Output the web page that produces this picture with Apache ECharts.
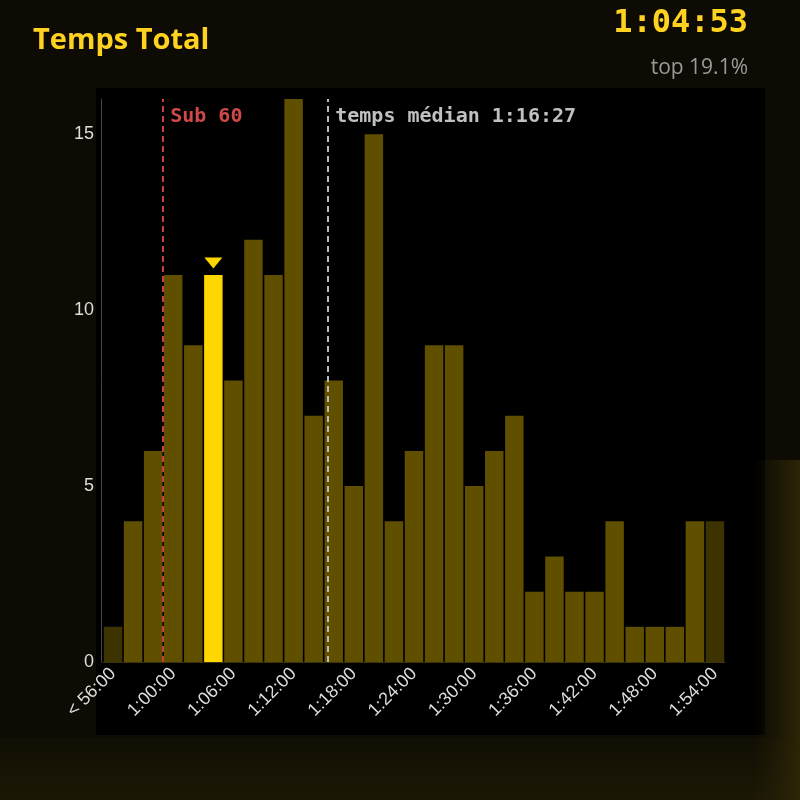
<!DOCTYPE html>
<html>
<head>
<meta charset="utf-8">
<script src="https://cdn.jsdelivr.net/npm/echarts@6/dist/echarts.min.js"></script>
<style>
html,body{margin:0;padding:0;background:#0e0c04;}
#chart{width:800px;height:800px;}
</style>
</head>
<body>
<div id="chart"></div>
<script>
// ---- data ----
const categories = ['< 56:00','56:00','58:00','1:00:00','1:02:00','1:04:00','1:06:00','1:08:00','1:10:00','1:12:00',
  '1:14:00','1:16:00','1:18:00','1:20:00','1:22:00','1:24:00','1:26:00','1:28:00','1:30:00','1:32:00',
  '1:34:00','1:36:00','1:38:00','1:40:00','1:42:00','1:44:00','1:46:00','1:48:00','1:50:00','1:52:00','1:54:00'];
const counts = [1,4,6,11,9,11,8,12,11,16,7,8,5,15,4,6,9,9,5,6,7,2,3,2,2,4,1,1,1,4,4];
const highlightIndex = 5;          // bin of the athlete (1:04:00-1:06:00)
const overflowIndices = [0, 30];   // open-ended bins
const sub60Minutes = 60;
const medianMinutes = 76 + 27/60;  // 1:16:27
const rangeMinutes = [54, 116];    // minutes covered by the bins
const titleText = 'Temps Total';
const timeText = '1:04:53';
const rankText = 'top 19.1%';
const medianLabel = 'temps médian 1:16:27';
const sub60Label = 'Sub 60';
const yTicks = {min: 0, max: 16, interval: 5};

// ---- chart ----
const chart = echarts.init(document.getElementById('chart'), null, {renderer: 'canvas'});
const barData = counts.map((v, i) => {
  let color = '#614f00';
  if (i === highlightIndex) color = '#ffd700';
  else if (overflowIndices.includes(i)) color = '#3d3300';
  return {value: v, itemStyle: {color: color}};
});

const option = {
  backgroundColor: '#0d0b04',
  animation: false,
  graphic: [
    {type: 'rect', z: -10, shape: {x: 96, y: 88, width: 669, height: 647}, style: {fill: '#000000'}},
    {type: 'rect', z: -10, shape: {x: 0, y: 738, width: 800, height: 62},
      style: {fill: {type: 'linear', x: 0, y: 0, x2: 0, y2: 1, colorStops: [{offset: 0, color: '#110f04'}, {offset: 1, color: '#1c1806'}]}}},
    {type: 'rect', z: -10, shape: {x: 755, y: 460, width: 45, height: 340},
      style: {fill: {type: 'linear', x: 0, y: 0, x2: 1, y2: 0, colorStops: [{offset: 0, color: 'rgba(40,34,6,0)'}, {offset: 1, color: 'rgba(44,37,6,1)'}]}}},
    {type: 'text', left: 33, top: 26, style: {text: titleText, fill: '#ffd21f', font: 'bold 29px "Open Sans", sans-serif'}},
    {type: 'text', right: 52, top: 8, style: {text: timeText, fill: '#ffd21f', font: 'bold 32px "DejaVu Sans Mono", monospace', textAlign: 'right'}},
    {type: 'text', right: 52, top: 58, style: {text: rankText, fill: '#9a9a9a', font: '21px "Open Sans", sans-serif', textAlign: 'right'}}
  ],
  grid: {left: 103, right: 75, top: 99, bottom: 138, containLabel: false},
  xAxis: [
    {
      type: 'category',
      data: categories,
      axisLine: {show: true, lineStyle: {color: '#3a3310', width: 1}},
      axisTick: {show: false},
      axisLabel: {interval: 2, rotate: 45, color: '#dddddd', fontSize: 18, fontFamily: 'Liberation Sans, Arial, sans-serif', margin: 9},
      splitLine: {show: false}
    },
    {
      type: 'value', min: rangeMinutes[0], max: rangeMinutes[1], show: false
    }
  ],
  yAxis: {
    type: 'value', min: yTicks.min, max: yTicks.max, interval: yTicks.interval, offset: 2,
    axisLine: {show: true, lineStyle: {color: '#444444', width: 1}},
    axisTick: {show: false},
    axisLabel: {color: '#dddddd', fontSize: 18, fontFamily: 'Liberation Sans, Arial, sans-serif', margin: 7, showMaxLabel: false},
    splitLine: {show: false}
  },
  series: [
    {
      type: 'bar',
      data: barData,
      barCategoryGap: '8%',
      z: 2,
      markPoint: {
        symbol: 'triangle',
        symbolSize: [18, 11],
        symbolRotate: 180,
        symbolOffset: [0, -12],
        itemStyle: {color: '#ffd700'},
        label: {show: false},
        data: [{coord: [highlightIndex, counts[highlightIndex]]}]
      }
    },
    {
      type: 'line',
      xAxisIndex: 1,
      data: [],
      markLine: {
        symbol: 'none',
        silent: true,
        z: 5,
        data: [
          {
            xAxis: sub60Minutes,
            lineStyle: {color: '#c94040', type: [6, 4], width: 2},
            label: {show: true, formatter: sub60Label, position: 'end', align: 'left', verticalAlign: 'top', distance: 0,
              padding: [8, 0, 0, 7], color: '#d04848', fontWeight: 'bold', fontSize: 20, fontFamily: '"DejaVu Sans Mono", monospace'}
          },
          {
            xAxis: medianMinutes,
            lineStyle: {color: '#bbbbbb', type: [6, 4], width: 2},
            label: {show: true, formatter: medianLabel, position: 'end', align: 'left', verticalAlign: 'top', distance: 0,
              padding: [8, 0, 0, 7], color: '#c0c0c0', fontWeight: 'bold', fontSize: 20, fontFamily: '"DejaVu Sans Mono", monospace'}
          }
        ]
      }
    }
  ]
};
chart.setOption(option);
</script>
</body>
</html>
